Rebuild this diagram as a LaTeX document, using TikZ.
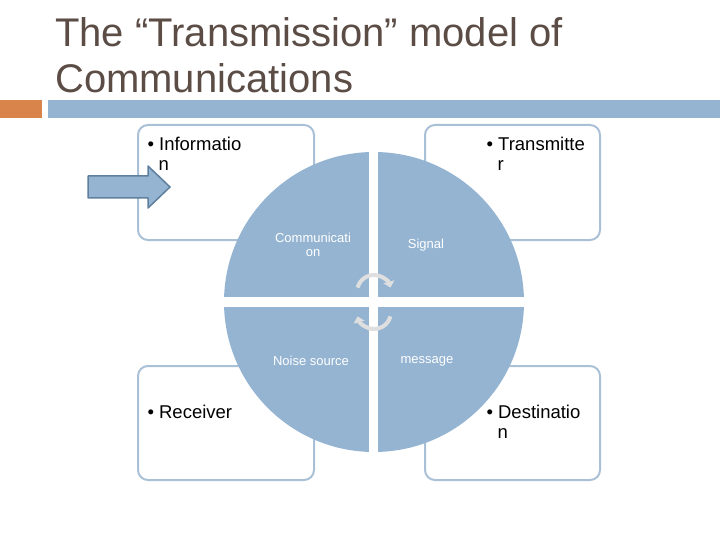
\documentclass[tikz,border=0pt]{standalone}
\usepackage{fontspec}
\setmainfont{Liberation Sans}
\usetikzlibrary{arrows.meta}
\definecolor{qblue}{HTML}{94B4D2}
\definecolor{bord}{HTML}{A9C0D6}
\definecolor{ttl}{HTML}{5B4D45}
\definecolor{dark}{HTML}{5F7F9F}
\definecolor{org}{HTML}{D9844A}
\begin{document}
\begin{tikzpicture}[x=1pt,y=-1pt,
  box/.style={draw=bord,line width=2pt,rounded corners=10pt},
  btxt/.style={anchor=north west,font=\fontsize{18.5}{20}\selectfont,align=left},
  qtxt/.style={text=white,font=\fontsize{13}{14}\selectfont,align=center},
  rot/.style={draw=gray!25,line width=4pt,-{Triangle[length=6pt,width=11pt]}}]
\useasboundingbox (0,0) rectangle (720,540);
\node[anchor=north west,text=ttl,font=\fontsize{40}{46}\selectfont,align=left,inner sep=0] (title) at (55,17) {The “Transmission” model of\\Communications};
\fill[org] (0,100) rectangle (42,118);
\fill[qblue] (48,100) rectangle (720,118);
\draw[box] (138,125) rectangle (314,240);
\draw[box] (425,125) rectangle (600,240);
\draw[box] (138,366) rectangle (314,480);
\draw[box] (425,366) rectangle (600,480);
\node[btxt] (t1) at (144,134) {• Informatio\\\hspace*{0.6em}n};
\node[btxt] (t2) at (483,134) {• Transmitte\\\hspace*{0.6em}r};
\node[btxt] (t3) at (144,402) {• Receiver};
\node[btxt] (t4) at (483,402) {• Destinatio\\\hspace*{0.6em}n};
\fill[qblue] (374,302) circle (150);
\fill[white] (369,140) rectangle (378,460);
\fill[white] (215,297) rectangle (530,307);
\node[qtxt] (q1) at (313,245) {Communicati\\on};
\node[qtxt] (q2) at (426,245) {Signal};
\node[qtxt] (q3) at (311,361) {Noise source};
\node[qtxt] (q4) at (427,361) {message};
\coordinate (ca) at (374,292);
\coordinate (cb) at (374,312);
\draw[rot] ([shift={(195:17)}]ca) arc (195:345:17);
\draw[rot] ([shift={(15:17)}]cb) arc (15:165:17);
\draw[fill=qblue,draw=dark,line width=1.5pt,line join=round] (88,176) -- (148,176) -- (148,166) -- (170,187) -- (148,208) -- (148,198) -- (88,198) -- cycle;
\end{tikzpicture}
\end{document}
